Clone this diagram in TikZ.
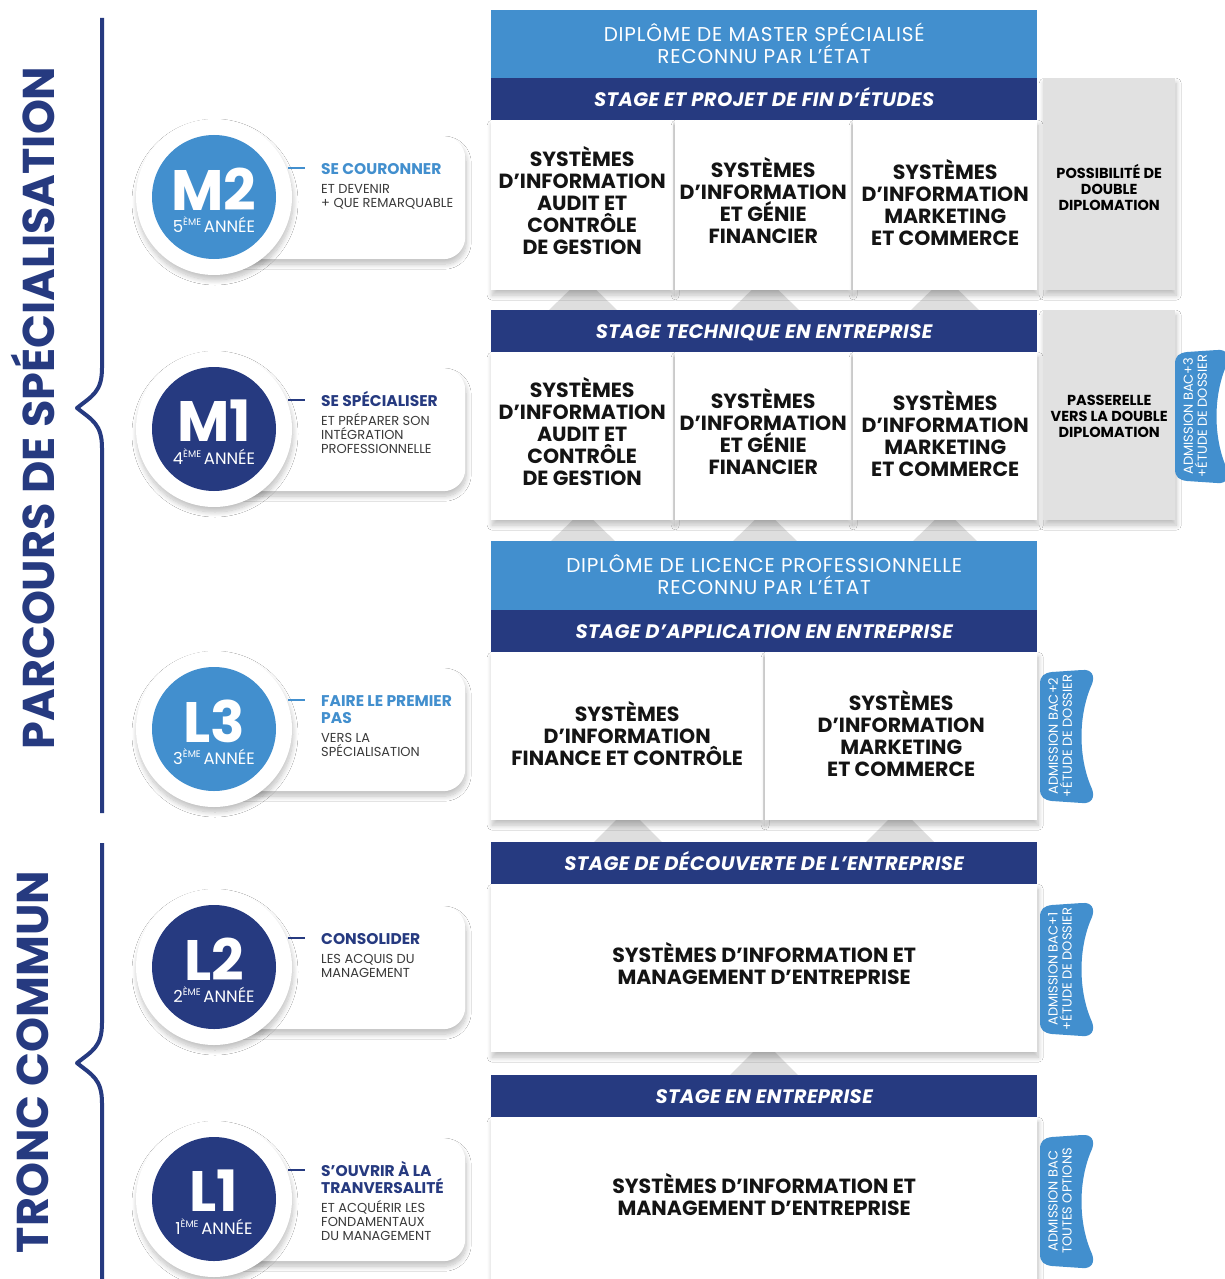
\documentclass[tikz,border=0pt]{standalone}
\usepackage{fontspec}
\setmainfont{Poppins}
\usetikzlibrary{shadows.blur}
\definecolor{dblue}{HTML}{263A80}
\definecolor{lblue}{HTML}{428FCE}
\definecolor{grayb}{HTML}{E1E1E1}
\definecolor{trigray}{HTML}{DEDEDE}
\definecolor{subgray}{HTML}{3A3A3A}
\tikzset{
  softshadow/.style={blur shadow={shadow xshift=1pt, shadow yshift=-5pt, shadow blur radius=5pt, shadow blur steps=12, shadow opacity=25}},
  whitebox/.style={fill=white, softshadow, inner sep=0pt, anchor=north west},
  boxtext/.style={align=center, inner sep=0pt, text=black!92, font=\bfseries\fontsize{20.5}{22}\selectfont},
  band/.style={fill=dblue, anchor=north west, minimum width=546pt, minimum height=42pt, inner sep=0pt, text height=14pt, text depth=0pt, text=white, font=\bfseries\itshape\fontsize{19.5}{19}\selectfont\addfontfeatures{LetterSpace=2}},
  headbox/.style={fill=lblue, anchor=north west, minimum width=546pt, minimum height=66pt, inner sep=0pt, text=white, align=center, font=\fontsize{20}{22}\selectfont\addfontfeatures{LetterSpace=4}},
  graybox/.style={fill=grayb, softshadow, anchor=north west, minimum width=132pt, inner sep=0pt},
  graytext/.style={inner sep=0pt, text=black, align=center, font=\bfseries\fontsize{14.5}{16}\selectfont},
  cardbox/.style={fill=white, rounded corners=22pt, softshadow, minimum width=243pt, minimum height=123pt, anchor=north west, inner sep=0pt},
  ring/.style={circle, fill=white, minimum size=156pt, inner sep=0pt, softshadow},
  disc/.style={circle, minimum size=124pt, inner sep=0pt, text=white, align=center},
  titletext/.style={anchor=north west, inner sep=0pt, align=left, font=\bfseries\fontsize{15.5}{17}\selectfont},
  subtext/.style={anchor=north west, inner sep=0pt, align=left, text=subgray, font=\fontsize{13}{14}\selectfont},
  tabtext/.style={rotate=90, text=white, align=center, inner sep=0pt, font=\fontsize{13}{14}\selectfont},
  sidetext/.style={rotate=90, text=dblue, inner sep=0pt, font=\bfseries\fontsize{44.5}{44}\selectfont},
  bracket/.style={draw=dblue, line width=4pt, line join=round},
}
% badge: name, centre y, colour, big label, year number, title, subtitle
\newcommand{\badge}[7]{%
  \node[cardbox] (#1card) at (222,#2-61) {};
  \node[ring] (#1ring) at (214,#2) {};
  \node[disc, fill=#3] (#1disc) at (214,#2) {};
  \node[text=white, inner sep=0pt, font=\bfseries\fontsize{57}{57}\selectfont] (#1big) at (214,#2-8) {#4};
  \node[text=white, inner sep=0pt, font=\fontsize{16.5}{18}\selectfont] (#1year) at (214,#2+28) {#5\raisebox{0.42em}{\fontsize{9.5}{9.5}\selectfont ÈME}\,ANNÉE};
  \coordinate (#1d1) at (288,#2-29);
  \coordinate (#1d2) at (305,#2-29);
  \draw[#3, line width=1.3pt] (#1d1) -- (#1d2);
  \node[titletext, text=#3] (#1title) at (321,#2-38) {\vphantom{É}#6};
  \node[subtext] (#1sub) at ([yshift=-7pt]#1title.south west) {\vphantom{É}#7};
}
% admission tab: name, x, y, text
\newcommand{\admtab}[4]{%
  \path[fill=lblue, shift={(#2,#3)}] (0,14) .. controls (0,6) and (4,3) .. (12,2) -- (42,0) .. controls (52,-1) and (55,6) .. (52,14) .. controls (38,45) and (38,88) .. (52,119) .. controls (55,127) and (52,134) .. (42,133) -- (12,131) .. controls (4,130) and (0,127) .. (0,119) -- cycle;
  \node[tabtext] (#1) at (#2+20,#3+66) {#4};
}
\begin{document}
\begin{tikzpicture}[x=1pt,y=-1pt]
\useasboundingbox[fill=white] (0,0) rectangle (1225,1279);

% side labels and brackets
\node[sidetext] (spec) at (33,408) {PARCOURS DE SPÉCIALISATION};
\node[sidetext] (tronc) at (33,1062) {TRONC COMMUN};
\draw[bracket] (102,18) -- (102,368) .. controls (102,392) and (92,396) .. (77,408) .. controls (92,420) and (102,424) .. (102,448) -- (102,813);
\draw[bracket] (102,843) -- (102,1023) .. controls (102,1047) and (92,1051) .. (77,1063) .. controls (92,1075) and (102,1079) .. (102,1103) -- (102,1282);

% connecting triangles
\foreach \cx in {583,765,945}{
  \fill[trigray] (\cx,277) -- (\cx+34,310) -- (\cx-34,310) -- cycle;
  \fill[trigray] (\cx,510) -- (\cx+34,543) -- (\cx-34,543) -- cycle;
}
\foreach \cx in {628,900}{
  \fill[trigray] (\cx,808) -- (\cx+34,842) -- (\cx-34,842) -- cycle;
}
\fill[trigray] (764,1041) -- (798,1075) -- (730,1075) -- cycle;

% ---- M2 row
\node[headbox] (mhead) at (491,10) {DIPLÔME DE MASTER SPÉCIALISÉ\\RECONNU PAR L’ÉTAT};
\fill[lblue] (491,74) rectangle (1037,79);
\node[band] (mband2) at (491,78) {STAGE ET PROJET DE FIN D’ÉTUDES};
\node[whitebox, minimum width=182pt, minimum height=170pt] (m2a) at (491,120) {};
\node[whitebox, minimum width=176pt, minimum height=170pt] (m2b) at (675,120) {};
\node[whitebox, minimum width=184pt, minimum height=170pt] (m2c) at (853,120) {};
\node[boxtext] (m2at) at ([yshift=5pt]m2a.center) {SYSTÈMES\\D’INFORMATION\\AUDIT ET\\CONTRÔLE\\DE GESTION};
\node[boxtext] (m2bt) at ([yshift=5pt]m2b.center) {SYSTÈMES\\D’INFORMATION\\ET GÉNIE\\FINANCIER};
\node[boxtext] (m2ct) at ([yshift=3pt]m2c.center) {SYSTÈMES\\D’INFORMATION\\MARKETING\\ET COMMERCE};
\node[graybox, minimum height=212pt] (m2g) at (1043,78) {};
\node[graytext] (m2gt) at ([yshift=-3pt]m2g.center) {POSSIBILITÉ DE\\DOUBLE\\DIPLOMATION};

% ---- M1 row
\node[band] (mband1) at (491,310) {STAGE TECHNIQUE EN ENTREPRISE};
\node[whitebox, minimum width=182pt, minimum height=168pt] (m1a) at (491,352) {};
\node[whitebox, minimum width=176pt, minimum height=168pt] (m1b) at (675,352) {};
\node[whitebox, minimum width=184pt, minimum height=168pt] (m1c) at (853,352) {};
\node[boxtext] (m1at) at ([yshift=5pt]m1a.center) {SYSTÈMES\\D’INFORMATION\\AUDIT ET\\CONTRÔLE\\DE GESTION};
\node[boxtext] (m1bt) at ([yshift=5pt]m1b.center) {SYSTÈMES\\D’INFORMATION\\ET GÉNIE\\FINANCIER};
\node[boxtext] (m1ct) at ([yshift=3pt]m1c.center) {SYSTÈMES\\D’INFORMATION\\MARKETING\\ET COMMERCE};
\node[graybox, minimum height=210pt] (m1g) at (1043,310) {};
\node[graytext] (m1gt) at ([yshift=-1pt]m1g.center) {PASSERELLE\\VERS LA DOUBLE\\DIPLOMATION};
\admtab{tab3}{1175}{350}{ADMISSION BAC+3\\+ÉTUDE DE DOSSIER}

% ---- L3 row
\node[headbox, minimum height=67pt] (lhead) at (491,541) {DIPLÔME DE LICENCE PROFESSIONNELLE\\RECONNU PAR L’ÉTAT};
\fill[lblue] (491,600) rectangle (1037,611);
\node[band] (lband3) at (491,610) {STAGE D’APPLICATION EN ENTREPRISE};
\node[whitebox, minimum width=272pt, minimum height=168pt] (l3a) at (491,652) {};
\node[whitebox, minimum width=272pt, minimum height=168pt] (l3b) at (765,652) {};
\node[boxtext] (l3at) at ([yshift=3pt]l3a.center) {SYSTÈMES\\D’INFORMATION\\FINANCE ET CONTRÔLE};
\node[boxtext] (l3bt) at ([yshift=3pt]l3b.center) {SYSTÈMES\\D’INFORMATION\\MARKETING\\ET COMMERCE};
\admtab{tab2}{1040}{670}{ADMISSION BAC+2\\+ÉTUDE DE DOSSIER}

% ---- L2 row
\node[band] (lband2) at (491,842) {STAGE DE DÉCOUVERTE DE L’ENTREPRISE};
\node[whitebox, minimum width=546pt, minimum height=168pt] (l2a) at (491,884) {};
\node[boxtext] (l2at) at ([yshift=5pt]l2a.center) {SYSTÈMES D’INFORMATION ET\\MANAGEMENT D’ENTREPRISE};
\admtab{tab1}{1040}{903}{ADMISSION BAC+1\\+ÉTUDE DE DOSSIER}

% ---- L1 row
\node[band] (lband1) at (491,1075) {STAGE EN ENTREPRISE};
\node[whitebox, minimum width=546pt, minimum height=164pt] (l1a) at (491,1117) {};
\node[boxtext] (l1at) at ([yshift=5pt]l1a.center) {SYSTÈMES D’INFORMATION ET\\MANAGEMENT D’ENTREPRISE};
\admtab{tab0}{1040}{1135}{ADMISSION BAC\\TOUTES OPTIONS}

% ---- badges
\badge{m2}{197}{lblue}{M2}{5}{SE COURONNER}{ET DEVENIR\\+ QUE REMARQUABLE}
\badge{m1}{429}{dblue}{M1}{4}{SE SPÉCIALISER}{ET PRÉPARER SON\\INTÉGRATION\\PROFESSIONNELLE}
\badge{l3}{729}{lblue}{L3}{3}{FAIRE LE PREMIER\\PAS}{VERS LA\\SPÉCIALISATION}
\badge{l2}{967}{dblue}{L2}{2}{CONSOLIDER}{LES ACQUIS DU\\MANAGEMENT}
\badge{l1}{1199}{dblue}{L1}{1}{S’OUVRIR À LA\\TRANVERSALITÉ}{ET ACQUÉRIR LES\\FONDAMENTAUX\\DU MANAGEMENT}
\end{tikzpicture}
\end{document}
